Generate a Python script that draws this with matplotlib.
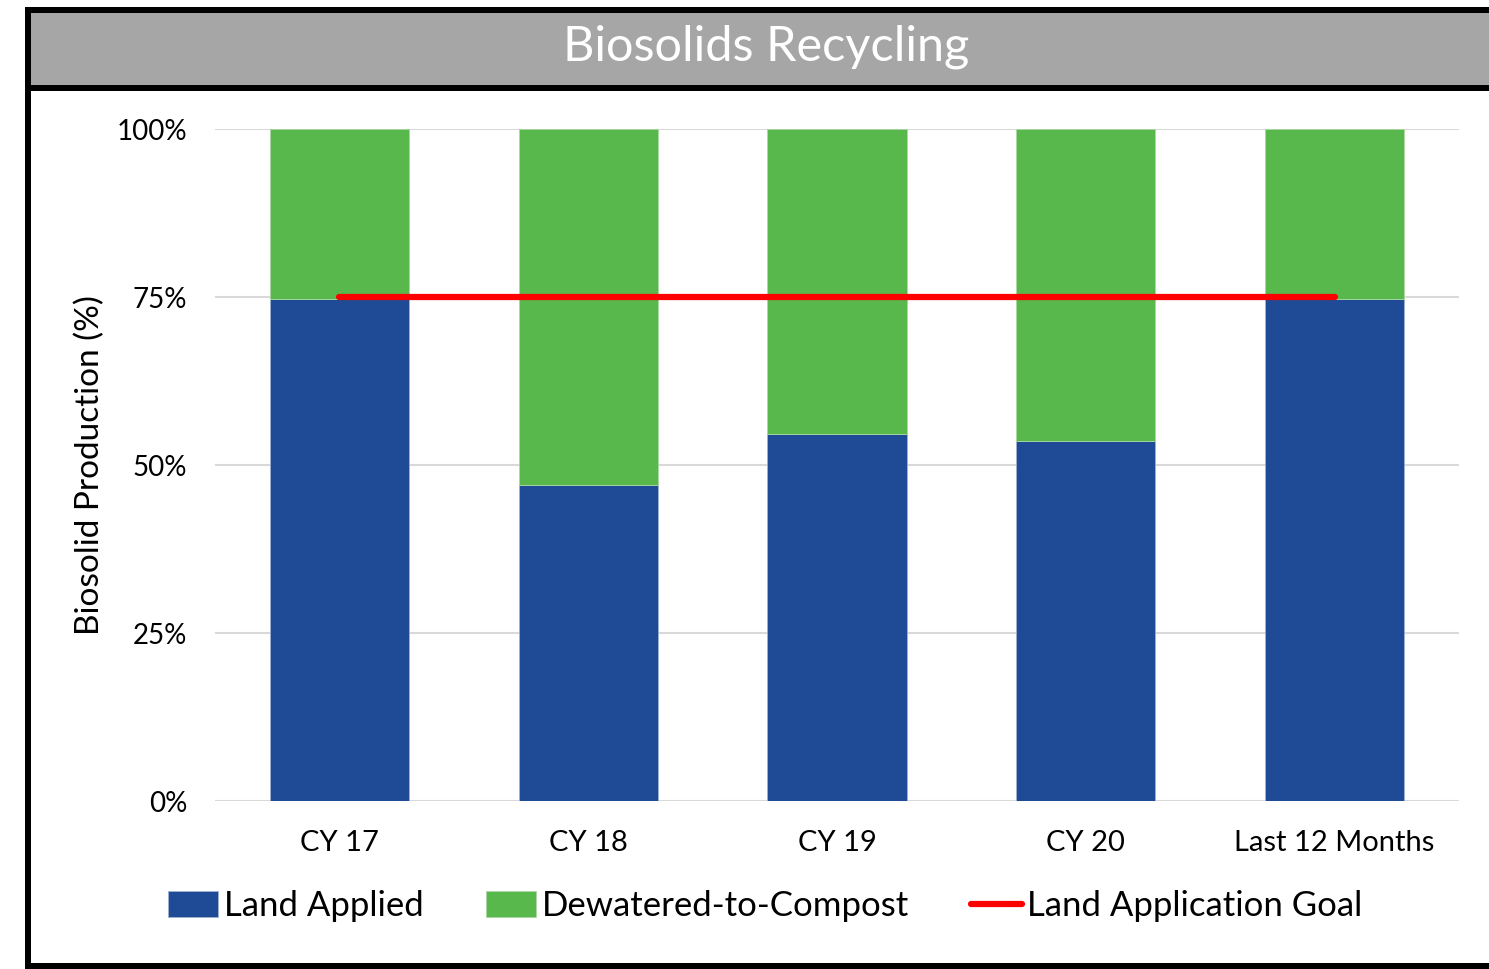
import matplotlib
matplotlib.use('Agg')
import matplotlib.pyplot as plt
from matplotlib.patches import Rectangle
from matplotlib.ticker import FuncFormatter

# ---------------------------------------------------------------
# data (percent of biosolid production)
# ---------------------------------------------------------------
categories = ["CY 17", "CY 18", "CY 19", "CY 20", "Last 12 Months"]
land_applied = [74.7, 47.0, 54.6, 53.6, 74.7]
compost = [100 - v for v in land_applied]
goal = [75, 75, 75, 75, 75]

BLUE = "#1F4A96"
GREEN = "#59B84B"
RED = "#FF0000"
GRAY = "#A6A6A6"

plt.rcParams['font.family'] = ['Lato', 'DejaVu Sans']

W, H = 1489, 969
fig = plt.figure(figsize=(W / 100, H / 100), dpi=100)

def px(x0, y0, x1, y1):
    # pixel box (top-left origin) -> figure fraction rect
    return (x0 / W, 1 - y1 / H, (x1 - x0) / W, (y1 - y0) / H)

# frame + title bar
for box, col in [((25, 7, W + 10, 969), "black"),
                 ((31, 13, W + 10, 963), "white"),
                 ((31, 13, W + 10, 85), GRAY),
                 ((31, 85, W + 10, 91), "black")]:
    x, y, w, h = px(*box)
    fig.patches.append(Rectangle((x, y), w, h, transform=fig.transFigure,
                                 facecolor=col, edgecolor="none", zorder=-10))

fig.text(766 / W, 1 - 47 / H, "Biosolids Recycling", color="white",
         fontsize=35, ha="center", va="center")

ax = fig.add_axes(px(215, 129, 1459, 801))
ax.set_zorder(1)
ax.set_facecolor("none")
xs = list(range(len(categories)))
b1 = ax.bar(xs, land_applied, width=0.56, color=BLUE, edgecolor="#9FB0D3",
            linewidth=0.6, label="Land Applied", zorder=2)
b2 = ax.bar(xs, compost, bottom=land_applied, width=0.56, color=GREEN,
            edgecolor="#A9D8A2", linewidth=0.6, label="Dewatered-to-Compost", zorder=2)
ln, = ax.plot(xs, goal, color=RED, linewidth=4.5, solid_capstyle="round",
              label="Land Application Goal", zorder=3)

ax.set_xlim(-0.5, 4.5)
ax.set_ylim(0, 100)
ax.set_yticks([0, 25, 50, 75, 100])
ax.yaxis.set_major_formatter(FuncFormatter(lambda v, p: f"{int(v)}%"))
ax.set_xticks(xs)
ax.set_xticklabels(categories)
ax.tick_params(axis="both", length=0, colors="black")
ax.tick_params(axis="y", pad=20, labelsize=20)
ax.tick_params(axis="x", pad=21, labelsize=21)
ax.grid(axis="y", color="#D9D9D9", linewidth=1.5, zorder=0)
ax.set_axisbelow(True)
for s in ax.spines.values():
    s.set_visible(False)
ax.set_ylabel("Biosolid Production (%)", fontsize=24, labelpad=8)

fig.legend(handles=[b1, b2, ln], loc="center",
           bbox_to_anchor=(765 / W, 1 - 906 / H), ncol=3, frameon=False,
           fontsize=25, handlelength=1.45, handleheight=0.75,
           handletextpad=0.15, columnspacing=1.8)

fig.savefig("out.png", dpi=100)
